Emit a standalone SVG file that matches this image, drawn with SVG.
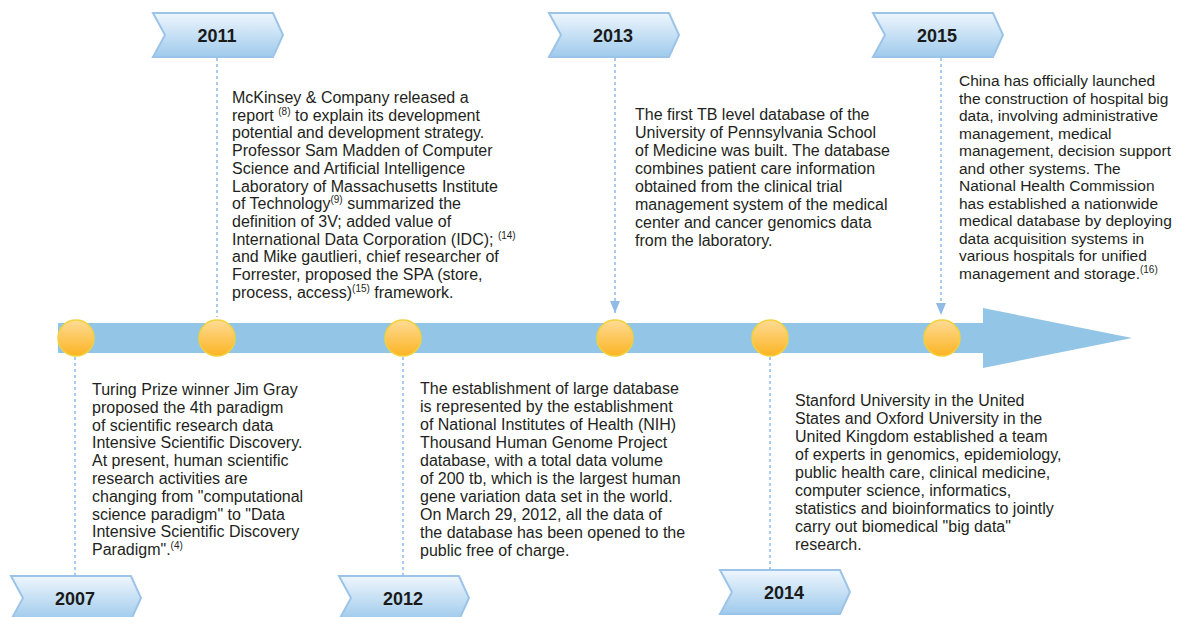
<svg xmlns="http://www.w3.org/2000/svg" width="1178" height="617" viewBox="0 0 1178 617">
<defs>
<linearGradient id="bannerGrad" x1="0" y1="0" x2="0" y2="1">
<stop offset="0" stop-color="#eef6fd"/>
<stop offset="1" stop-color="#9fcaec"/>
</linearGradient>
<linearGradient id="dotGrad" x1="0" y1="0" x2="0" y2="1">
<stop offset="0" stop-color="#fedb95"/>
<stop offset="1" stop-color="#fbb423"/>
</linearGradient>
<marker id="arrow" viewBox="0 0 12 10" refX="12" refY="5" markerWidth="12" markerHeight="10" markerUnits="userSpaceOnUse" orient="auto">
<path d="M0,0 L12,5 L0,10 Z" fill="#8fbbe6"/>
</marker>
<style>
.banner{fill:url(#bannerGrad);stroke:#9cc4e8;stroke-width:2;stroke-linejoin:miter}
.year{font-family:"Liberation Sans",Arial,sans-serif;font-weight:bold;font-size:18px;fill:#1a1a1a;text-anchor:middle}
.dot{fill:url(#dotGrad);stroke:#f2d23c;stroke-width:1.5}
.desc{font-family:"Liberation Sans",Arial,sans-serif;font-size:16px;fill:#231f20}
.small{font-size:15.5px}
.sup{font-size:10px}
.dash{stroke:#8fbbe6;stroke-width:1.5;stroke-dasharray:3 3;fill:none}
</style>
</defs>
<rect width="1178" height="617" fill="#ffffff"/>

<g id="timeline">
<polygon points="58,323 983,323 983,308 1132,338 983,368 983,353 58,353" fill="#93c5e6"/>
</g>

<g id="connectors">
<line class="dash" x1="217" y1="58" x2="217" y2="317"/>
<line class="dash" x1="615" y1="58" x2="615" y2="313" marker-end="url(#arrow)"/>
<line class="dash" x1="941" y1="58" x2="941" y2="315" marker-end="url(#arrow)"/>
<line class="dash" x1="75" y1="357" x2="75" y2="576"/>
<line class="dash" x1="403" y1="357" x2="403" y2="576"/>
<line class="dash" x1="770" y1="357" x2="770" y2="570"/>
</g>

<g id="node-2007">
<circle class="dot" cx="76" cy="338" r="18"/>
<polygon class="banner" points="11,576 131,576 141,598 131,620 11,620 23,598"/>
<text class="year" x="75" y="605">2007</text>
<text class="desc" x="92" y="395">Turing Prize winner Jim Gray</text>
<text class="desc" x="92" y="412.8">proposed the 4th paradigm</text>
<text class="desc" x="92" y="430.6">of scientific research data</text>
<text class="desc" x="92" y="448.4">Intensive Scientific Discovery.</text>
<text class="desc" x="92" y="466.2">At present, human scientific</text>
<text class="desc" x="92" y="484">research activities are</text>
<text class="desc" x="92" y="501.8">changing from "computational</text>
<text class="desc" x="92" y="519.6">science paradigm" to "Data</text>
<text class="desc" x="92" y="537.4">Intensive Scientific Discovery</text>
<text class="desc" x="92" y="555.2">Paradigm".<tspan class="sup" dy="-6">(4)</tspan></text>
</g>

<g id="node-2011">
<circle class="dot" cx="217" cy="338" r="18"/>
<polygon class="banner" points="153,13 273,13 283,35 273,57 153,57 165,35"/>
<text class="year" x="217" y="42">2011</text>
<text class="desc" x="232" y="103">McKinsey &amp; Company released a</text>
<text class="desc" x="232" y="120.7">report <tspan class="sup" dy="-6">(8)</tspan><tspan dy="6"> to explain its development</tspan></text>
<text class="desc" x="232" y="138.4">potential and development strategy.</text>
<text class="desc" x="232" y="156.1">Professor Sam Madden of Computer</text>
<text class="desc" x="232" y="173.8">Science and Artificial Intelligence</text>
<text class="desc" x="232" y="191.5">Laboratory of Massachusetts Institute</text>
<text class="desc" x="232" y="209.2">of Technology<tspan class="sup" dy="-6">(9)</tspan><tspan dy="6"> summarized the</tspan></text>
<text class="desc" x="232" y="226.9">definition of 3V; added value of</text>
<text class="desc" x="232" y="244.6">International Data Corporation (IDC); <tspan class="sup" dy="-6">(14)</tspan></text>
<text class="desc" x="232" y="262.3">and Mike gautlieri, chief researcher of</text>
<text class="desc" x="232" y="280">Forrester, proposed the SPA (store,</text>
<text class="desc" x="232" y="297.7">process, access)<tspan class="sup" dy="-6">(15)</tspan><tspan dy="6"> framework.</tspan></text>
</g>

<g id="node-2012">
<circle class="dot" cx="403" cy="338" r="18"/>
<polygon class="banner" points="339,576 459,576 469,598 459,620 339,620 351,598"/>
<text class="year" x="403" y="605">2012</text>
<text class="desc" x="420" y="394">The establishment of large database</text>
<text class="desc" x="420" y="412">is represented by the establishment</text>
<text class="desc" x="420" y="430">of National Institutes of Health (NIH)</text>
<text class="desc" x="420" y="448">Thousand Human Genome Project</text>
<text class="desc" x="420" y="466">database, with a total data volume</text>
<text class="desc" x="420" y="484">of 200 tb, which is the largest human</text>
<text class="desc" x="420" y="502">gene variation data set in the world.</text>
<text class="desc" x="420" y="520">On March 29, 2012, all the data of</text>
<text class="desc" x="420" y="538">the database has been opened to the</text>
<text class="desc" x="420" y="556">public free of charge.</text>
</g>

<g id="node-2013">
<circle class="dot" cx="615" cy="338" r="18"/>
<polygon class="banner" points="549,13 669,13 679,35 669,57 549,57 561,35"/>
<text class="year" x="613" y="42">2013</text>
<text class="desc" x="635" y="120">The first TB level database of the</text>
<text class="desc" x="635" y="138">University of Pennsylvania School</text>
<text class="desc" x="635" y="156">of Medicine was built. The database</text>
<text class="desc" x="635" y="174">combines patient care information</text>
<text class="desc" x="635" y="192">obtained from the clinical trial</text>
<text class="desc" x="635" y="210">management system of the medical</text>
<text class="desc" x="635" y="228">center and cancer genomics data</text>
<text class="desc" x="635" y="246">from the laboratory.</text>
</g>

<g id="node-2014">
<circle class="dot" cx="770" cy="338" r="18"/>
<polygon class="banner" points="720,570 840,570 850,592 840,614 720,614 732,592"/>
<text class="year" x="784" y="599">2014</text>
<text class="desc" x="795" y="406">Stanford University in the United</text>
<text class="desc" x="795" y="424">States and Oxford University in the</text>
<text class="desc" x="795" y="442">United Kingdom established a team</text>
<text class="desc" x="795" y="460">of experts in genomics, epidemiology,</text>
<text class="desc" x="795" y="478">public health care, clinical medicine,</text>
<text class="desc" x="795" y="496">computer science, informatics,</text>
<text class="desc" x="795" y="514">statistics and bioinformatics to jointly</text>
<text class="desc" x="795" y="532">carry out biomedical "big data"</text>
<text class="desc" x="795" y="550">research.</text>
</g>

<g id="node-2015">
<circle class="dot" cx="942" cy="338" r="18"/>
<polygon class="banner" points="873,13 993,13 1003,35 993,57 873,57 885,35"/>
<text class="year" x="937" y="42">2015</text>
<text class="desc small" x="959" y="86">China has officially launched</text>
<text class="desc small" x="959" y="103.5">the construction of hospital big</text>
<text class="desc small" x="959" y="121">data, involving administrative</text>
<text class="desc small" x="959" y="138.5">management, medical</text>
<text class="desc small" x="959" y="156">management, decision support</text>
<text class="desc small" x="959" y="173.5">and other systems. The</text>
<text class="desc small" x="959" y="191">National Health Commission</text>
<text class="desc small" x="959" y="208.5">has established a nationwide</text>
<text class="desc small" x="959" y="226">medical database by deploying</text>
<text class="desc small" x="959" y="243.5">data acquisition systems in</text>
<text class="desc small" x="959" y="261">various hospitals for unified</text>
<text class="desc small" x="959" y="278.5">management and storage.<tspan class="sup" dy="-6">(16)</tspan></text>
</g>
</svg>
